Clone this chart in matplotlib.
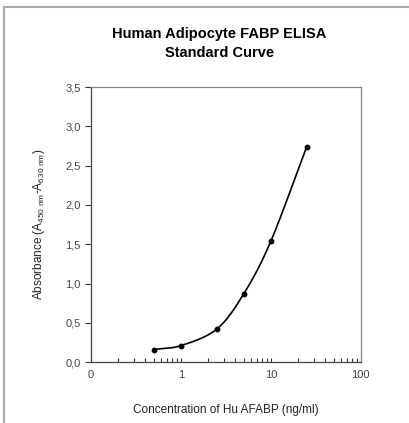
import numpy as np
import matplotlib

matplotlib.use("Agg")
import matplotlib.pyplot as plt
from matplotlib.lines import Line2D
from matplotlib.ticker import FixedLocator, LogLocator, NullFormatter

plt.rcParams["font.family"] = ["Liberation Sans", "DejaVu Sans"]
plt.rcParams["mathtext.fontset"] = "custom"
plt.rcParams["mathtext.rm"] = "Liberation Sans"

conc = [0.5, 1, 2.5, 5, 10, 25]
absorbance = [0.16, 0.21, 0.42, 0.87, 1.54, 2.74]
y_ticks = [0.0, 0.5, 1.0, 1.5, 2.0, 2.5, 3.0, 3.5]
x_ticks = [0.1, 1, 10, 100]
x_labels = ["0", "1", "10", "100"]


def smooth_curve(x, y, steps=40):
    """Catmull-Rom smoothing in log-x space, like a spreadsheet 'smoothed line'."""
    lx = np.log10(x)
    y = np.asarray(y, float)
    px = np.r_[2 * lx[0] - lx[1], lx, 2 * lx[-1] - lx[-2]]
    py = np.r_[2 * y[0] - y[1], y, 2 * y[-1] - y[-2]]
    xs, ys = [], []
    t = np.linspace(0, 1, steps)
    for i in range(1, len(px) - 2):
        for arr, out in ((px, xs), (py, ys)):
            p0, p1, p2, p3 = arr[i - 1], arr[i], arr[i + 1], arr[i + 2]
            out.append(0.5 * ((2 * p1) + (-p0 + p2) * t
                              + (2 * p0 - 5 * p1 + 4 * p2 - p3) * t ** 2
                              + (-p0 + 3 * p1 - 3 * p2 + p3) * t ** 3))
    return 10 ** np.concatenate(xs), np.concatenate(ys)


fig = plt.figure(figsize=(4.10, 4.23), dpi=100)
ax = fig.add_axes([0.222, 0.144, 0.658, 0.650])

sx, sy = smooth_curve(conc, absorbance)
ax.plot(sx, sy, color="black", lw=1.2)
ax.plot(conc, absorbance, "o", color="black", ms=3.2)

ax.set_xscale("log")
ax.set_xlim(0.1, 100)
ax.set_ylim(0, 3.5)
ax.xaxis.set_major_locator(FixedLocator(x_ticks))
ax.set_xticklabels(x_labels)
ax.xaxis.set_minor_locator(LogLocator(base=10, subs=np.arange(2, 10)))
ax.xaxis.set_minor_formatter(NullFormatter())
ax.set_yticks(y_ticks)
ax.set_yticklabels([f"{v:.1f}".replace(".", ",") for v in y_ticks])

ax.tick_params(axis="x", which="both", direction="in", length=3, width=0.8,
               colors="#333333", labelcolor="#444444", labelsize=8, pad=6)
ax.tick_params(axis="y", direction="out", length=4, width=0.8,
               colors="#333333", labelcolor="#444444", labelsize=8)
for side in ("left", "bottom"):
    ax.spines[side].set_color("#444444")
for side in ("top", "right"):
    ax.spines[side].set_color("#888888")
for s in ax.spines.values():
    s.set_linewidth(0.9)

ax.set_xlabel("Concentration of Hu AFABP (ng/ml)", fontsize=8.5, color="#222222", labelpad=17)
ax.set_ylabel(r"Absorbance (A$_{\mathrm{450\ nm}}$-A$_{\mathrm{630\ nm}}$)",
              fontsize=8.5, color="#222222", labelpad=13)

fig.text(0.535, 0.897, "Human Adipocyte FABP ELISA\nStandard Curve", ha="center", va="center",
         fontsize=10.5, fontweight="bold", linespacing=1.45)

# grey frame along top and left edges
fig.add_artist(Line2D([0.010, 1.0], [0.983, 0.983], color="#aaaaaa", lw=1.5,
                      transform=fig.transFigure))
fig.add_artist(Line2D([0.010, 0.010], [0.0, 0.983], color="#aaaaaa", lw=1.5,
                      transform=fig.transFigure))

fig.savefig("out.png", dpi=100)
